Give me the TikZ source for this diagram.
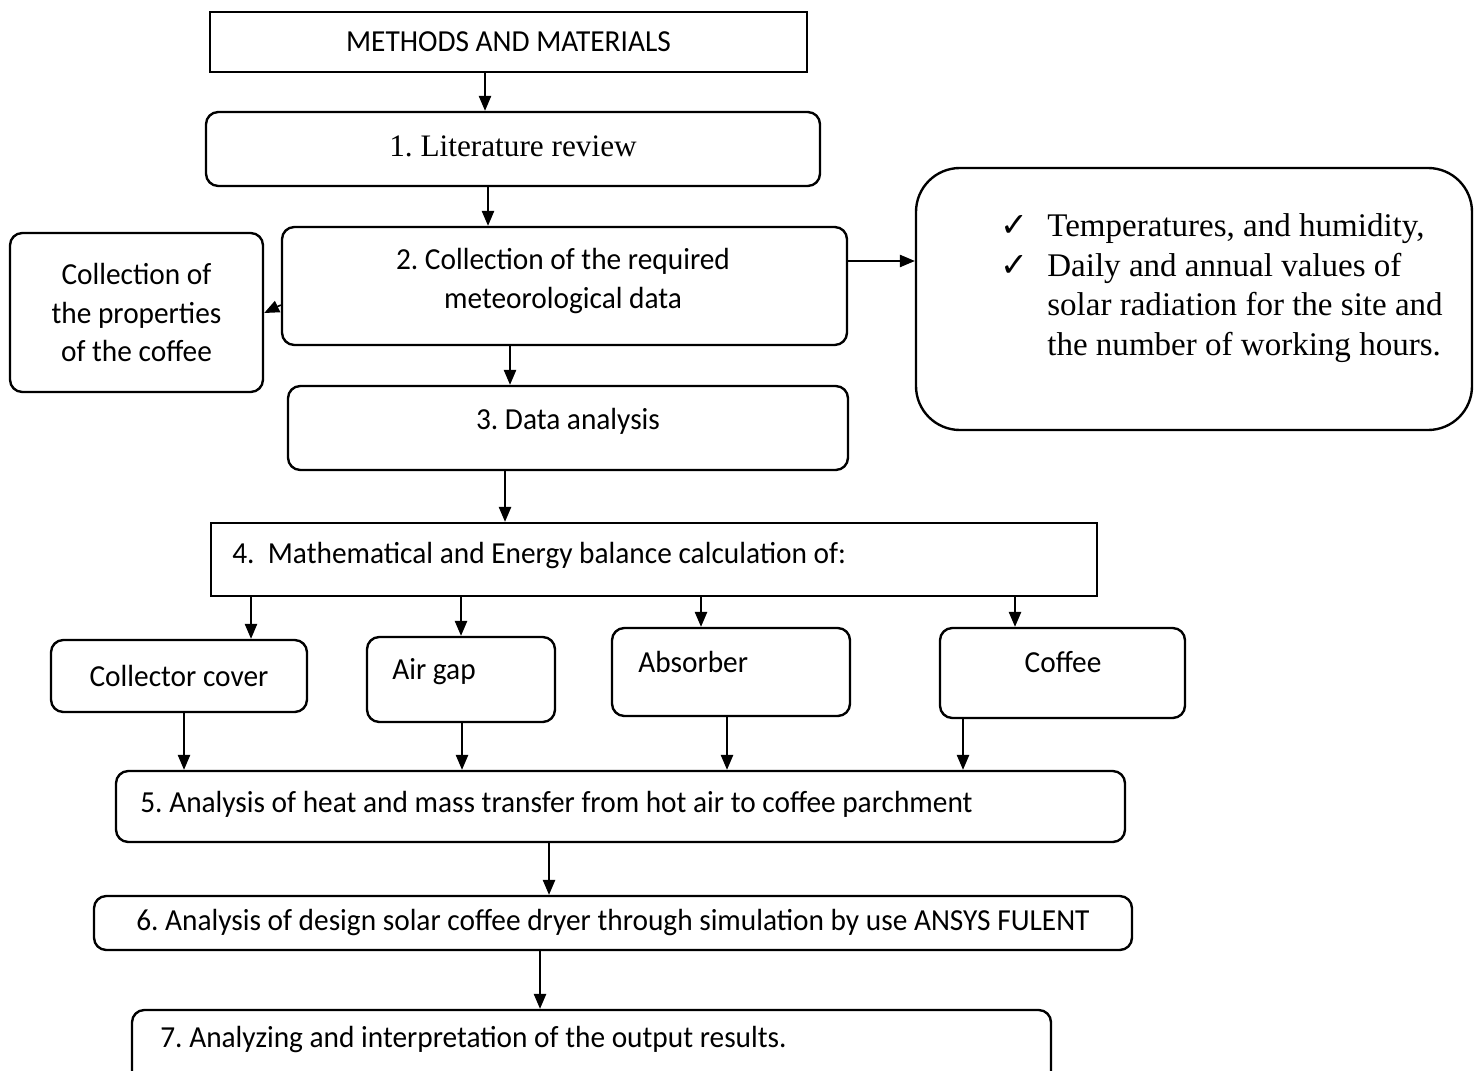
\documentclass[tikz,border=0pt]{standalone}
\usepackage{fontspec}
\setmainfont{Liberation Serif}
\newfontfamily\calfont[FakeStretch=0.96]{Carlito}
\newfontfamily\symfont{DejaVu Sans}
\usetikzlibrary{arrows.meta}

\newcommand\pxu{0.02cm}
\tikzstyle{arrow} = [line width=0.9pt,-{Triangle[length=8.5pt,width=7pt]}]
\tikzstyle{box} = [draw, line width=1.35pt, rounded corners=7pt, inner sep=0pt]
\tikzstyle{sqbox} = [draw, line width=1.35pt, inner sep=0pt]
\tikzstyle{sans} = [font=\calfont\fontsize{17.4}{21.8}\selectfont, inner sep=0pt]
\tikzstyle{serif} = [font=\fontsize{18.8}{22.4}\selectfont, inner sep=0pt]

\begin{document}
\frenchspacing
\begin{tikzpicture}[x=0.02cm,y=-0.02cm]
\useasboundingbox (0,0) rectangle (1478,1071);
\clip (0,0) rectangle (1478,1071);

% Top boxes
\node[sqbox, sans, minimum width=597*\pxu, minimum height=60*\pxu] (meth) at (508.5,42) {METHODS AND MATERIALS};
\node[box, minimum width=614*\pxu, minimum height=74*\pxu] (lit) at (513,149) {};
\node[serif, font=\fontsize{17.8}{21}\selectfont] (litt) at (513,146) {1. Literature review};

% Data collection
\node[box, minimum width=565*\pxu, minimum height=118*\pxu] (met) at (564.5,286) {};
\node[sans, align=center] (mett) at (563,281) {2. Collection of the required\\meteorological data};
\node[box, sans, align=center, minimum width=253*\pxu, minimum height=159*\pxu] (prop) at (136.5,312.5) {Collection of\\the properties\\of the coffee};

% Check list
\node[box, rounded corners=25pt, minimum width=556*\pxu, minimum height=262*\pxu] (chk) at (1194,299) {};
\foreach \t [count=\i from 0] in {{Temperatures, and humidity,},{Daily and annual values of},{solar radiation for the site and},{the number of working hours.}}
  \node[serif, anchor=base west] (line\i) at (1047,237+39.5*\i) {\t};
\foreach \i in {0,1}
  \node[anchor=base west, inner sep=0pt, font=\symfont\fontsize{19}{22}\selectfont] (tick\i) at (1000,237+39.5*\i) {✓};

% Analysis
\node[box, minimum width=560*\pxu, minimum height=84*\pxu] (ana) at (568,428) {};
\node[sans] (anat) at (568,421) {3. Data analysis};
\node[sqbox, minimum width=886*\pxu, minimum height=73*\pxu] (calc) at (654,559.5) {};
\node[sans, anchor=west] (calct) at (232,556) {4.\ \ Mathematical and Energy balance calculation of:};

% Parts
\node[box, sans, minimum width=256*\pxu, minimum height=72*\pxu] (cov) at (179,676) {Collector cover};
\node[box, minimum width=188*\pxu, minimum height=85*\pxu] (gap) at (461,679.5) {};
\node[sans, anchor=west] (gapt) at (392,672) {Air gap};
\node[box, minimum width=238*\pxu, minimum height=88*\pxu] (abs) at (731,672) {};
\node[sans, anchor=west] (abst) at (638,662) {Absorber};
\node[box, minimum width=245*\pxu, minimum height=90*\pxu] (cof) at (1062.5,673) {};
\node[sans] (coft) at (1063,662) {Coffee};

% Lower steps
\node[box, minimum width=1009*\pxu, minimum height=71*\pxu] (heat) at (620.5,806.5) {};
\node[sans, anchor=west] (heatt) at (140,804) {5. Analysis of heat and mass transfer from hot air to coffee parchment};
\node[box, sans, minimum width=1038*\pxu, minimum height=54*\pxu] (sim) at (613,923) {6. Analysis of design solar coffee dryer through simulation by use ANSYS FULENT};
\node[box, minimum width=919*\pxu, minimum height=100*\pxu] (res) at (591.5,1060) {};
\node[sans, anchor=west] (rest) at (160,1040) {7. Analyzing and interpretation of the output results.};

% Arrows
\draw[arrow] (meth.south -| 485,0) -- (lit.north -| 485,0);
\draw[arrow] (lit.south -| 488,0) -- (met.north -| 488,0);
\draw[arrow] (met.west |- 0,305) -- (prop.east |- 0,313);
\draw[arrow] (met.east |- 0,261) -- (chk.west |- 0,261);
\draw[arrow] (met.south -| 510,0) -- (ana.north -| 510,0);
\draw[arrow] (ana.south -| 505,0) -- (calc.north -| 505,0);
\draw[arrow] (calc.south -| 251,0) -- (cov.north -| 251,0);
\draw[arrow] (calc.south -| 461,0) -- (gap.north -| 461,0);
\draw[arrow] (calc.south -| 701,0) -- (abs.north -| 701,0);
\draw[arrow] (calc.south -| 1015,0) -- (cof.north -| 1015,0);
\draw[arrow] (cov.south -| 184,0) -- (heat.north -| 184,0);
\draw[arrow] (gap.south -| 462,0) -- (heat.north -| 462,0);
\draw[arrow] (abs.south -| 727,0) -- (heat.north -| 727,0);
\draw[arrow] (cof.south -| 963,0) -- (heat.north -| 963,0);
\draw[arrow] (heat.south -| 549,0) -- (sim.north -| 549,0);
\draw[arrow] (sim.south -| 540,0) -- (res.north -| 540,0);

\end{tikzpicture}
\end{document}
